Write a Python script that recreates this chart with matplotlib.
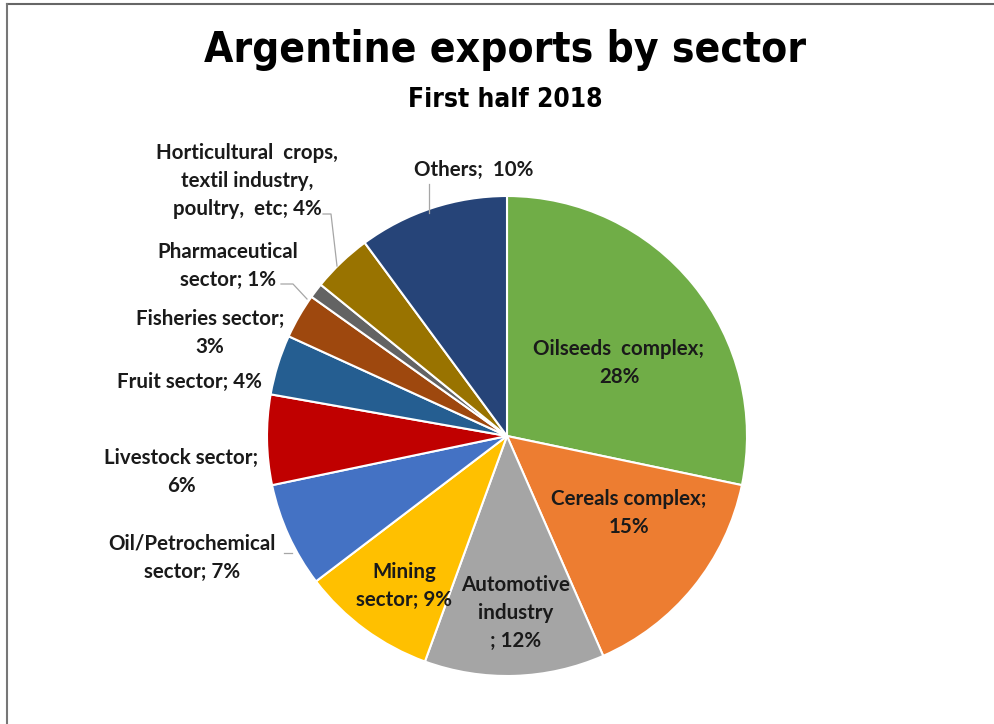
import matplotlib
matplotlib.use("Agg")
import matplotlib.pyplot as plt
from matplotlib.lines import Line2D

# Datos (porcentajes del primer semestre 2018)
sectores = ['Oilseeds complex', 'Cereals complex', 'Automotive industry', 'Mining sector',
            'Oil/Petrochemical sector', 'Livestock sector', 'Fruit sector', 'Fisheries sector',
            'Pharmaceutical sector', 'Horticultural crops, textil industry, poultry, etc', 'Others']
valores = [28, 15, 12, 9, 7, 6, 4, 3, 1, 4, 10]
colores = ['#70AD47', '#ED7D31', '#A5A5A5', '#FFC000', '#4472C4', '#C00000',
           '#255E91', '#9E480E', '#636363', '#997300', '#264478']

# Textos de las etiquetas tal como aparecen en el grafico
etiquetas = ['Oilseeds  complex;\n28%', 'Cereals complex;\n15%', 'Automotive\nindustry\n; 12%',
             'Mining\nsector; 9%', 'Oil/Petrochemical\nsector; 7%', 'Livestock sector;\n6%',
             'Fruit sector; 4%', 'Fisheries sector;\n3%', 'Pharmaceutical\nsector; 1%',
             'Horticultural  crops,\ntextil industry,\npoultry,  etc; 4%', 'Others;  10%']

W, H = 995, 724
fig = plt.figure(figsize=(W / 100, H / 100), dpi=100)

def px(x, y):
    # pixel (desde arriba a la izquierda) -> fraccion de figura
    return x / W, 1 - y / H

# ejes del pie: centro (507, 436), radio 240 px
cx, cy, r = 507, 436, 240
ax = fig.add_axes([(cx - r) / W, (H - cy - r) / H, 2 * r / W, 2 * r / H])
ax.pie(valores, colors=colores, startangle=90, counterclock=False, radius=1,
       wedgeprops=dict(edgecolor='white', linewidth=1.5))
ax.set_xlim(-1.0, 1.0)
ax.set_ylim(-1.0, 1.0)
ax.set_aspect('equal')
ax.axis('off')

# titulo (fuente condensada si existe, si no se ajusta el ancho)
titulo_fuente = ['Liberation Sans Narrow', 'DejaVu Sans']
t1 = fig.text(*px(505, 50), 'Argentine exports by sector', ha='center', va='center',
              fontsize=37, fontweight='bold', family=titulo_fuente, fontstretch='condensed')
t2 = fig.text(*px(505, 100), 'First half 2018', ha='center', va='center',
              fontsize=19, fontweight='bold', family=titulo_fuente, fontstretch='condensed')
rend = fig.canvas.get_renderer()
for t, ancho in [(t1, 600), (t2, 195)]:
    w = t.get_window_extent(rend).width
    t.set_fontsize(t.get_fontsize() * ancho / w)

# posiciones de etiquetas (centro del bloque, en pixeles)
pos_etiquetas = [(619, 363), (629, 513), (516, 613), (404, 586), (192, 558), (181, 472),
                 (189, 382), (210, 333), (228, 266), (247, 181), (474, 170)]
for txt, (x, y) in zip(etiquetas, pos_etiquetas):
    fig.text(*px(x, y), txt, ha='center', va='center', fontsize=14.8, fontweight='bold',
             family=['Lato', 'DejaVu Sans'], color='#1a1a1a', linespacing=1.5)

# lineas guia
guias = [
    [(429, 184), (429, 213)],
    [(323, 214), (331, 214), (337, 266)],
    [(281, 284), (293, 284), (307, 299)],
    [(284, 553), (292, 553)],
]
for g in guias:
    xs = [px(*p)[0] for p in g]
    ys = [px(*p)[1] for p in g]
    fig.add_artist(Line2D(xs, ys, color='#a6a6a6', linewidth=0.9))

# marco de la imagen
fig.add_artist(Line2D([px(7, 4)[0], px(995, 4)[0]], [px(7, 4)[1]] * 2, color='#666666', linewidth=1.5))
fig.add_artist(Line2D([px(7, 4)[0]] * 2, [px(7, 4)[1], px(7, 724)[1]], color='#777777', linewidth=1.5))

fig.savefig('out.png', dpi=100)
